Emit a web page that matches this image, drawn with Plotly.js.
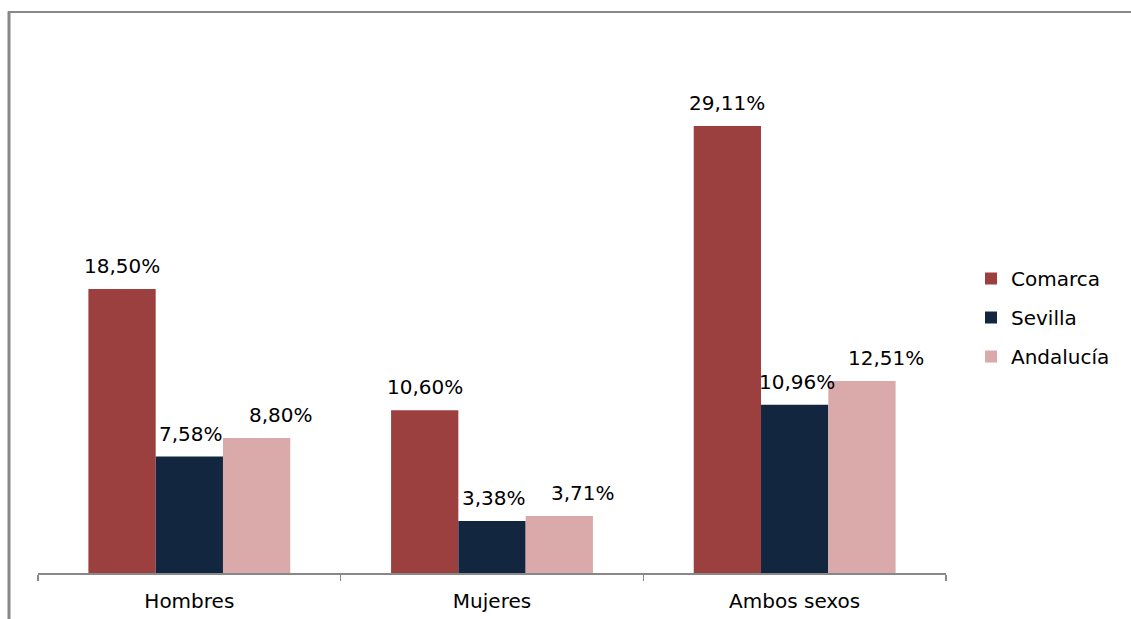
<!DOCTYPE html>
<html>
<head>
<meta charset="utf-8">
<script src="https://cdn.plot.ly/plotly-3.0.1.min.js"></script>
<style>html,body{margin:0;padding:0;background:#fff;}#chart{width:1131px;height:619px;}</style>
</head>
<body>
<div id="chart"></div>
<script>
const categories = ["Hombres", "Mujeres", "Ambos sexos"];
const seriesNames = ["Comarca", "Sevilla", "Andalucía"];
const comarca = [18.50, 10.60, 29.11];
const sevilla = [7.58, 3.38, 10.96];
const andalucia = [8.80, 3.71, 12.51];
const colors = ["#9C403F", "#132640", "#D9AAA9"];

const fmt = v => v.toFixed(2).replace(".", ",") + "%";
const allSeries = [comarca, sevilla, andalucia];

const traces = allSeries.map((vals, i) => ({
  type: "bar",
  name: seriesNames[i],
  x: categories,
  y: vals,
  marker: {color: colors[i], line: {width: 0}},
  legendgroup: "g" + i,
  hoverinfo: "none"
}));

const L = 38, R = 946, T = 51, B = 573;
const W = R - L, H = B - T;
const px = x => (x - L) / W;
const py = y => (B - y) / H;

const bargap = 0.333;
const barPx = (W / categories.length) * (1 - bargap) / allSeries.length;
const labelXShift = [-barPx, 2, barPx + 24];

const annotations = [];
allSeries.forEach((vals, i) => {
  vals.forEach((v, j) => {
    annotations.push({
      x: categories[j], y: v, xref: "x", yref: "y",
      text: fmt(v), showarrow: false,
      xanchor: "center", yanchor: "middle",
      xshift: labelXShift[i], yshift: 23,
      font: {family: "DejaVu Sans", size: 20, color: "#000"}
    });
  });
});

const layout = {
  width: 1131, height: 619,
  margin: {l: L, r: 1131 - R, t: T, b: 619 - B},
  paper_bgcolor: "#fff", plot_bgcolor: "#fff",
  barmode: "group",
  bargap: bargap, bargroupgap: 0,
  showlegend: true,
  legend: {
    x: px(971), y: py(259), xanchor: "left", yanchor: "top",
    font: {family: "DejaVu Sans", size: 20, color: "#000"},
    traceorder: "grouped", tracegroupgap: 10,
    itemsizing: "constant", bgcolor: "rgba(0,0,0,0)"
  },
  xaxis: {
    type: "category",
    tickson: "boundaries",
    ticks: "outside", ticklen: 6, tickcolor: "#888", tickwidth: 1.5,
    showline: true, linecolor: "#888", linewidth: 1.5,
    showgrid: false, zeroline: false,
    ticklabelstandoff: 9,
    tickfont: {family: "DejaVu Sans", size: 20, color: "#000"},
    fixedrange: true
  },
  yaxis: {
    range: [0, 34], visible: false, showgrid: false, zeroline: false, fixedrange: true
  },
  annotations: annotations,
  shapes: [
    {type: "line", xref: "paper", yref: "paper", x0: px(9), x1: px(9), y0: py(640), y1: py(11.5),
     line: {color: "#888", width: 3}},
    {type: "line", xref: "paper", yref: "paper", x0: px(8), x1: px(1160), y0: py(12), y1: py(12),
     line: {color: "#888", width: 2}}
  ],
  font: {family: "DejaVu Sans"}
};

Plotly.newPlot("chart", traces, layout, {displayModeBar: false, staticPlot: true});
</script>
</body>
</html>
